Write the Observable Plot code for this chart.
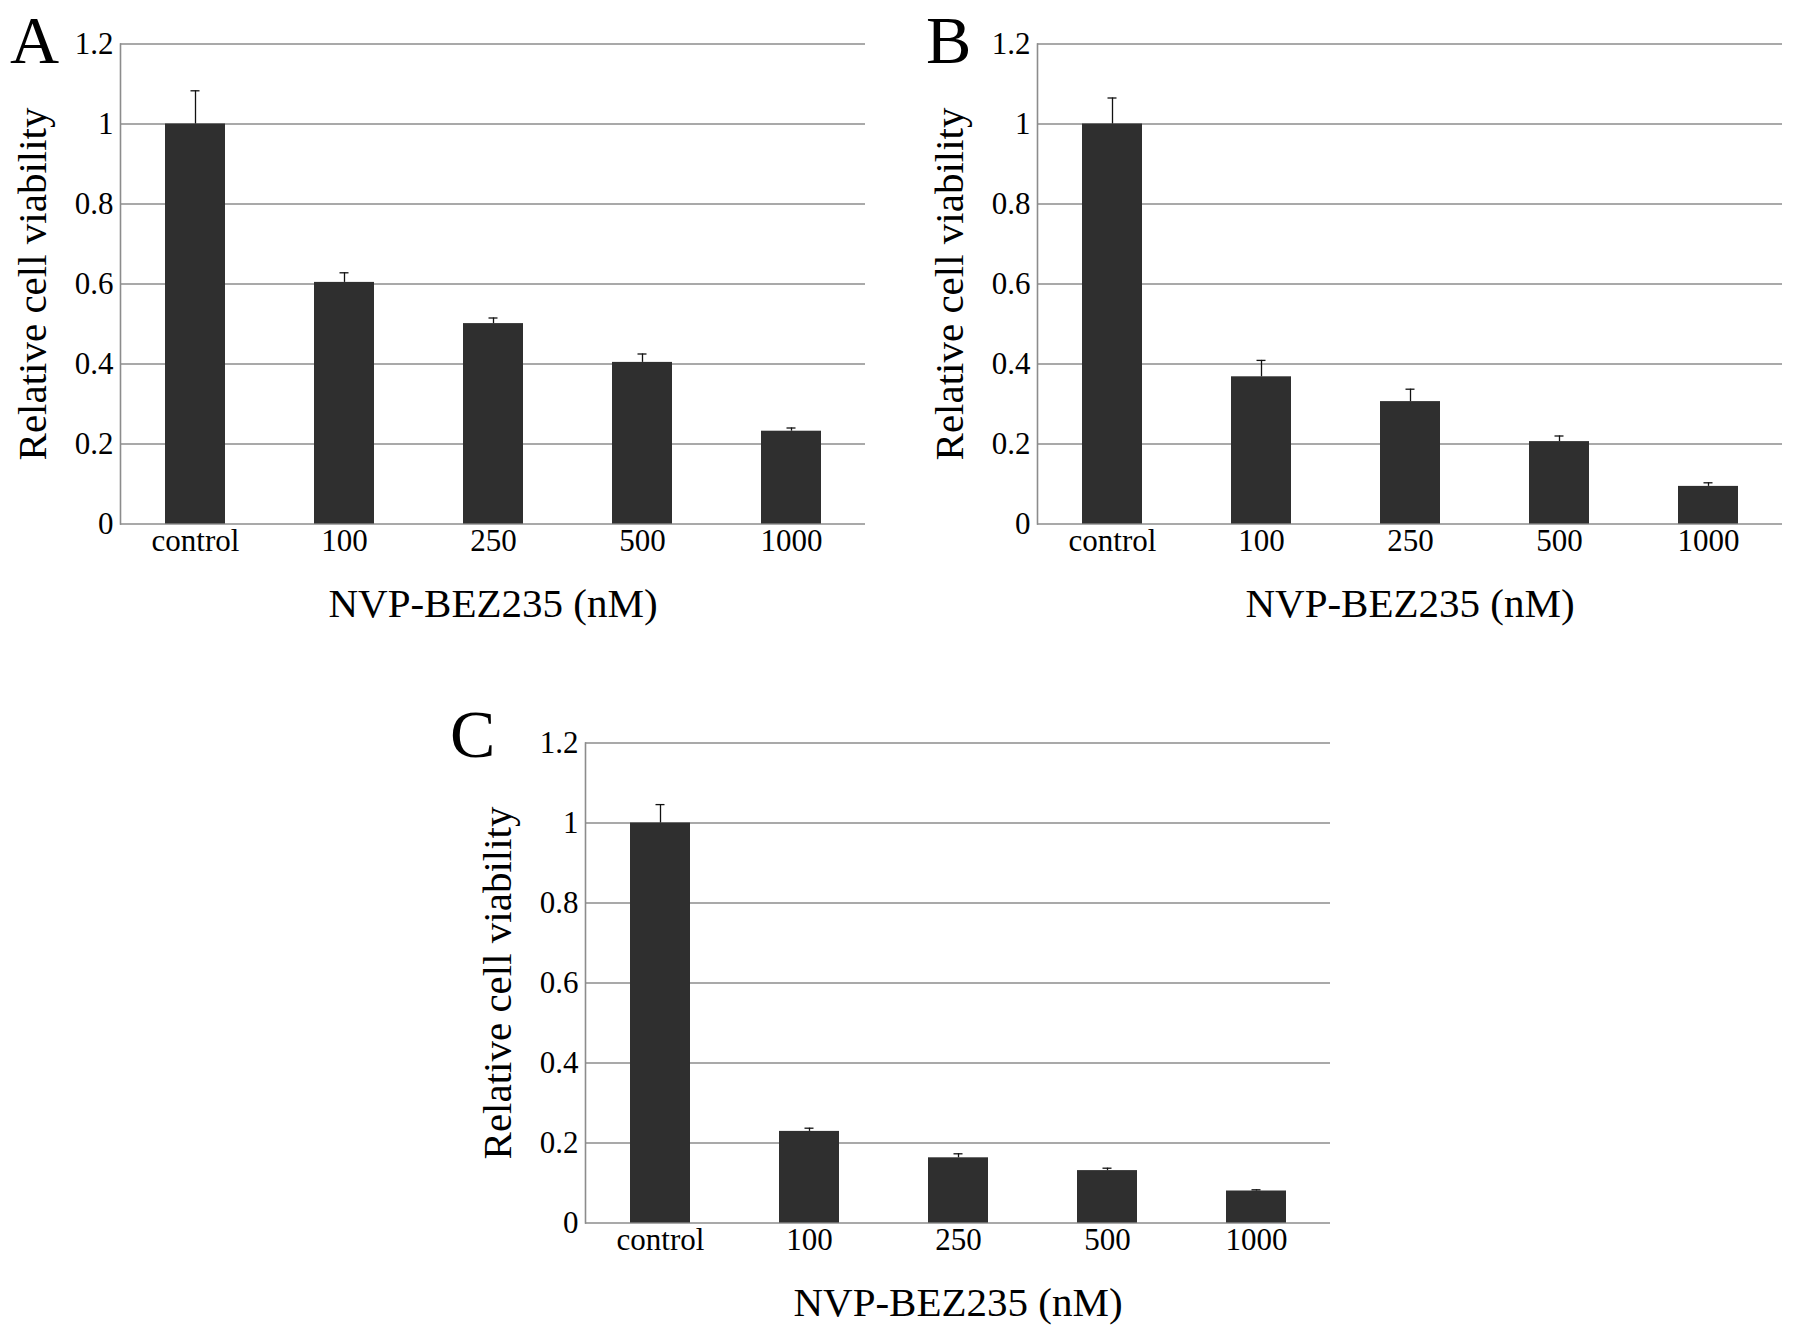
<!DOCTYPE html>
<html>
<head>
<meta charset="utf-8">
<script src="https://cdn.jsdelivr.net/npm/d3@7"></script>
<script src="https://cdn.jsdelivr.net/npm/@observablehq/plot@0.6"></script>
<style>
  html, body { margin: 0; padding: 0; background: #fff; }
  #wrap { position: relative; width: 1795px; height: 1333px; overflow: hidden; font-family: "Liberation Serif", "Times New Roman", serif; }
  .panel { position: absolute; }
  .letter { position: absolute; font-family: "Liberation Serif", serif; font-size: 68px; line-height: 1; color: #000; }
</style>
</head>
<body>
<div id="wrap"></div>
<script>
const categories = ["control", "100", "250", "500", "1000"];
const yTicks = [0, 0.2, 0.4, 0.6, 0.8, 1, 1.2];

const meanA = [1.0, 0.604, 0.501, 0.404, 0.232];
const errA  = [0.083, 0.024, 0.014, 0.021, 0.008];

const meanB = [1.0, 0.368, 0.306, 0.206, 0.094];
const errB  = [0.065, 0.041, 0.031, 0.014, 0.009];

const meanC = [1.0, 0.229, 0.163, 0.131, 0.080];
const errC  = [0.046, 0.008, 0.010, 0.006, 0.003];

const panels = [
  {letter: "A", mean: meanA, err: errA, left: 0,   top: 0,     lx: 10,  ly: 6},
  {letter: "B", mean: meanB, err: errB, left: 917, top: 0,     lx: 926, ly: 6},
  {letter: "C", mean: meanC, err: errC, left: 465, top: 698.5, lx: 450, ly: 700}
];

const wrap = document.getElementById("wrap");
const fmt = d => String(+d.toFixed(1));

for (const p of panels) {
  const data = categories.map((c, i) => ({cat: c, v: p.mean[i], hi: p.mean[i] + p.err[i]}));
  const chart = Plot.plot({
    width: 120 + 745 + 10,
    height: 43.5 + 480 + 110,
    marginLeft: 120,
    marginRight: 10,
    marginTop: 43.5,
    marginBottom: 110,
    style: {fontFamily: "Liberation Serif, Times New Roman, serif", background: "#fff", color: "#000"},
    x: {domain: categories, paddingInner: 0.6, paddingOuter: 0.3, label: null},
    y: {domain: [0, 1.2], label: null},
    marks: [
      Plot.gridY(yTicks, {stroke: "#8c8c8c", strokeOpacity: 1, strokeWidth: 1.6}),
      Plot.frame({anchor: "left", stroke: "#8c8c8c", strokeWidth: 1.6}),
      Plot.barY(data, {x: "cat", y: "v", fill: "#2f2f2f"}),
      Plot.ruleX(data, {x: "cat", y1: "v", y2: "hi", stroke: "#111", strokeWidth: 1.3}),
      Plot.tickY(data, {x: "cat", y: "hi", stroke: "#111", strokeWidth: 1.3, insetLeft: 25.5, insetRight: 25.5}),
      Plot.axisX({tickSize: 0, tickPadding: 5, fontSize: 31, label: null}),
      Plot.axisY({ticks: yTicks, tickFormat: fmt, tickSize: 0, tickPadding: 7, fontSize: 31, label: null}),
      Plot.text(["NVP-BEZ235 (nM)"], {frameAnchor: "bottom", dy: 80, fontSize: 41, lineAnchor: "middle", textAnchor: "middle", fill: "#000"}),
      Plot.text(["Relative cell viability"], {frameAnchor: "left", dx: -88, rotate: -90, fontSize: 41, lineAnchor: "middle", textAnchor: "middle", fill: "#000"})
    ]
  });
  const div = document.createElement("div");
  div.className = "panel";
  div.style.left = p.left + "px";
  div.style.top = p.top + "px";
  div.appendChild(chart);
  wrap.appendChild(div);

  const l = document.createElement("div");
  l.className = "letter";
  l.style.left = p.lx + "px";
  l.style.top = p.ly + "px";
  l.textContent = p.letter;
  wrap.appendChild(l);
}
</script>
</body>
</html>
